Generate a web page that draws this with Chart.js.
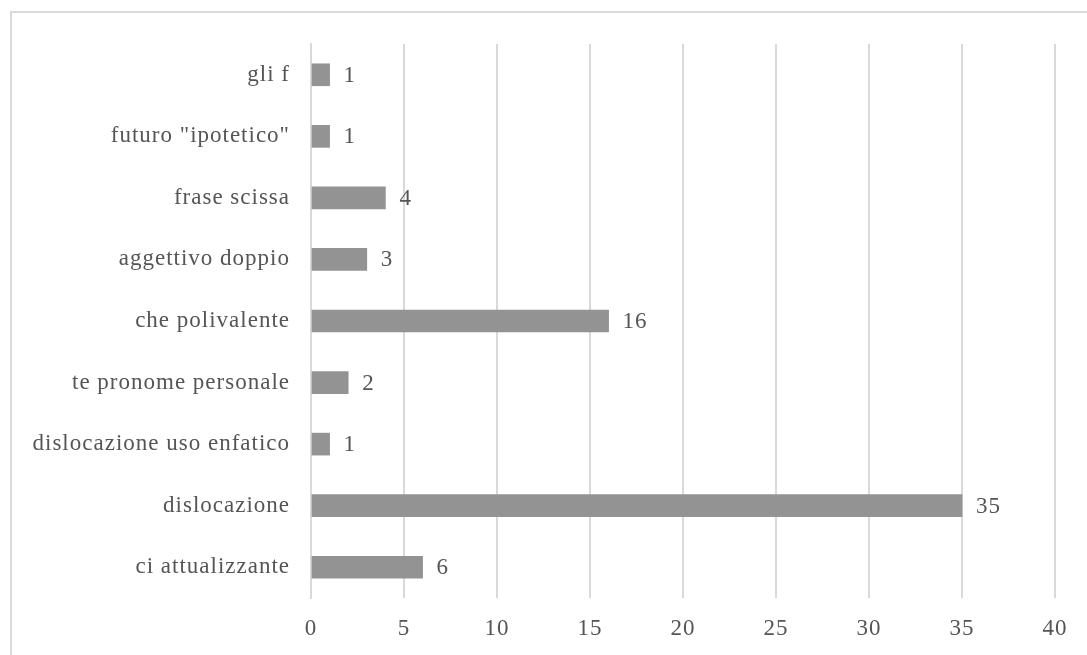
<!DOCTYPE html>
<html>
<head>
<meta charset="utf-8">
<script src="https://cdn.jsdelivr.net/npm/chart.js@4/dist/chart.umd.min.js"></script>
<style>
  html, body { margin: 0; padding: 0; background: #fff; overflow: hidden; }
  #wrap { position: relative; width: 1087px; height: 655px; }
  #frame { position: absolute; left: 10px; top: 11px; width: 1200px; height: 800px;
           border-top: 2px solid #d9d9d9; border-left: 2px solid #d9d9d9; box-sizing: border-box; }
  canvas { position: absolute; left: 0; top: 0; }
</style>
</head>
<body>
<div id="wrap">
  <div id="frame"></div>
  <canvas id="c" width="1087" height="655"></canvas>
</div>
<script>
// Categories in the order they appear from the top of the axis
const categories = [
  'gli f',
  'futuro "ipotetico"',
  'frase scissa',
  'aggettivo doppio',
  'che polivalente',
  'te pronome personale',
  'dislocazione uso enfatico',
  'dislocazione',
  'ci attualizzante'
];
const counts = [1, 1, 4, 3, 16, 2, 1, 35, 6];
const xMin = 0;
const xMax = 40;
const xStep = 5;

const textColor = '#555555';
const gridColor = '#d9d9d9';
const barColor = '#939393';
const fontFamily = '"Liberation Serif", "Times New Roman", serif';
const fontSize = 23;

// Prints each bar's count just past its end
const valueLabels = {
  id: 'valueLabels',
  afterDatasetsDraw(chart) {
    const ctx = chart.ctx;
    const meta = chart.getDatasetMeta(0);
    ctx.save();
    ctx.letterSpacing = '1px';
    ctx.font = fontSize + 'px ' + fontFamily;
    ctx.fillStyle = textColor;
    ctx.textAlign = 'left';
    ctx.textBaseline = 'middle';
    meta.data.forEach((bar, i) => {
      ctx.fillText(String(chart.data.datasets[0].data[i]), bar.x + 14, bar.y + 1);
    });
    ctx.restore();
  }
};

// Tracks the axis lettering a little wider
const tracking = {
  id: 'tracking',
  beforeDraw(chart) { chart.ctx.letterSpacing = '1px'; }
};

new Chart(document.getElementById('c'), {
  type: 'bar',
  data: {
    labels: categories,
    datasets: [{
      data: counts,
      backgroundColor: barColor,
      borderWidth: 0,
      barThickness: 22
    }]
  },
  options: {
    indexAxis: 'y',
    responsive: false,
    animation: false,
    layout: { padding: { top: 44, right: 32, bottom: 0, left: 0 } },
    plugins: {
      legend: { display: false },
      tooltip: { enabled: false }
    },
    scales: {
      x: {
        min: xMin,
        max: xMax,
        ticks: { stepSize: xStep, color: textColor, padding: 17,
                 font: { family: fontFamily, size: fontSize } },
        grid: { color: gridColor, lineWidth: 2, drawTicks: false },
        border: { display: false },
        afterFit(scale) { scale.height = 57; }
      },
      y: {
        ticks: { color: textColor, padding: 21,
                 font: { family: fontFamily, size: fontSize } },
        grid: { display: false, drawTicks: false },
        border: { display: true, color: gridColor, width: 2 },
        afterFit(scale) { scale.width = 311; }
      }
    }
  },
  plugins: [tracking, valueLabels]
});
</script>
</body>
</html>
